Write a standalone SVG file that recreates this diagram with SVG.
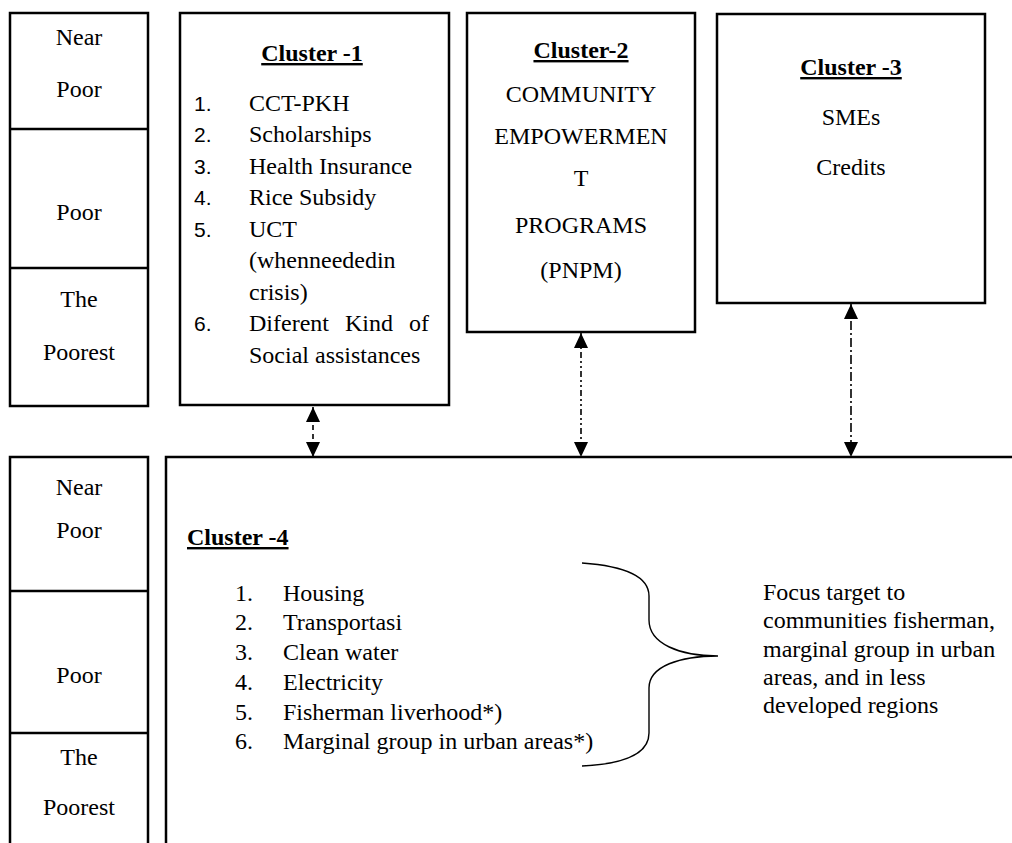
<svg xmlns="http://www.w3.org/2000/svg" width="1012" height="843" viewBox="0 0 1012 843">
<style>
.box{fill:#fff;stroke:#000;stroke-width:2.5}
.ln{fill:none;stroke:#000;stroke-width:2.5}
.t{font-family:"Liberation Serif","Times New Roman",serif;font-size:24px;fill:#000}
.c{text-anchor:middle}
.b{font-weight:bold;text-decoration:underline}
.n{font-family:"Liberation Sans",Arial,sans-serif;font-size:21px;fill:#000}
.con{fill:none;stroke:#000;stroke-width:1.6}
</style>
<defs>
<marker id="ah" viewBox="0 0 15 14" refX="15" refY="7" markerWidth="15" markerHeight="14" markerUnits="userSpaceOnUse" orient="auto-start-reverse">
<path d="M0,0 L15,7 L0,14 z" fill="#000"/>
</marker>
</defs>
<rect width="1012" height="843" fill="#fff"/>

<g id="levels-top">
<rect class="box" x="10" y="13" width="138" height="393"/>
<line class="ln" x1="10" y1="129" x2="148" y2="129"/>
<line class="ln" x1="10" y1="268" x2="148" y2="268"/>
<text class="t c" x="79" y="45">Near</text>
<text class="t c" x="79" y="97">Poor</text>
<text class="t c" x="79" y="220">Poor</text>
<text class="t c" x="79" y="307">The</text>
<text class="t c" x="79" y="360">Poorest</text>
</g>

<g id="cluster1">
<rect class="box" x="180" y="13" width="269" height="392"/>
<text class="t c b" x="312" y="61">Cluster -1</text>
<text class="n" x="194" y="111">1.</text><text class="t" x="249" y="111">CCT-PKH</text>
<text class="n" x="194" y="142">2.</text><text class="t" x="249" y="142">Scholarships</text>
<text class="n" x="194" y="174">3.</text><text class="t" x="249" y="174">Health Insurance</text>
<text class="n" x="194" y="205">4.</text><text class="t" x="249" y="205">Rice Subsidy</text>
<text class="n" x="194" y="237">5.</text><text class="t" x="249" y="237">UCT</text>
<text class="t" x="249" y="268">(whenneededin</text>
<text class="t" x="249" y="300">crisis)</text>
<text class="n" x="194" y="331">6.</text><text class="t" y="331"><tspan x="249">Diferent</tspan> <tspan x="345">Kind</tspan> <tspan x="409">of</tspan></text>
<text class="t" x="249" y="363">Social assistances</text>
</g>

<g id="cluster2">
<rect class="box" x="467" y="13" width="228" height="319"/>
<text class="t c b" x="581" y="58">Cluster-2</text>
<text class="t c" x="581" y="102">COMMUNITY</text>
<text class="t c" x="581" y="144">EMPOWERMEN</text>
<text class="t c" x="581" y="186">T</text>
<text class="t c" x="581" y="233">PROGRAMS</text>
<text class="t c" x="581" y="278">(PNPM)</text>
</g>

<g id="cluster3">
<rect class="box" x="717" y="14" width="268" height="289"/>
<text class="t c b" x="851" y="75">Cluster -3</text>
<text class="t c" x="851" y="125">SMEs</text>
<text class="t c" x="851" y="175">Credits</text>
</g>

<g id="levels-bottom">
<path class="ln" d="M10,843 L10,457 L148,457 L148,843"/>
<line class="ln" x1="10" y1="591" x2="148" y2="591"/>
<line class="ln" x1="10" y1="733" x2="148" y2="733"/>
<text class="t c" x="79" y="495">Near</text>
<text class="t c" x="79" y="538">Poor</text>
<text class="t c" x="79" y="683">Poor</text>
<text class="t c" x="79" y="765">The</text>
<text class="t c" x="79" y="815">Poorest</text>
</g>

<g id="cluster4">
<path class="ln" d="M166,843 L166,457 L1012,457"/>
<text class="t b" x="187" y="545">Cluster -4</text>
<text class="t" x="235" y="601">1.</text><text class="t" x="283" y="601">Housing</text>
<text class="t" x="235" y="630">2.</text><text class="t" x="283" y="630">Transportasi</text>
<text class="t" x="235" y="660">3.</text><text class="t" x="283" y="660">Clean water</text>
<text class="t" x="235" y="690">4.</text><text class="t" x="283" y="690">Electricity</text>
<text class="t" x="235" y="720">5.</text><text class="t" x="283" y="720">Fisherman liverhood*)</text>
<text class="t" x="235" y="749">6.</text><text class="t" x="283" y="749">Marginal group in urban areas*)</text>
<path d="M582,563 C625,566 649,576 649,596 L649,620 C649,644 680,656 718,656 C680,656 649,666 649,688 L649,733 C649,754 625,764 582,766" fill="none" stroke="#000" stroke-width="1.4"/>
<text class="t" x="763" y="600">Focus target to</text>
<text class="t" x="763" y="628">communities fisherman,</text>
<text class="t" x="763" y="657">marginal group in urban</text>
<text class="t" x="763" y="685">areas, and in less</text>
<text class="t" x="763" y="713">developed regions</text>
</g>

<g id="connectors">
<path class="con" d="M313,407 L313,457" stroke-dasharray="5 4" marker-start="url(#ah)" marker-end="url(#ah)"/>
<path class="con" d="M581,333 L581,457" stroke-dasharray="6 3 2 3 2 3" marker-start="url(#ah)" marker-end="url(#ah)"/>
<path class="con" d="M851,304 L851,457" stroke-dasharray="9 3 2 3" marker-start="url(#ah)" marker-end="url(#ah)"/>
</g>
</svg>
